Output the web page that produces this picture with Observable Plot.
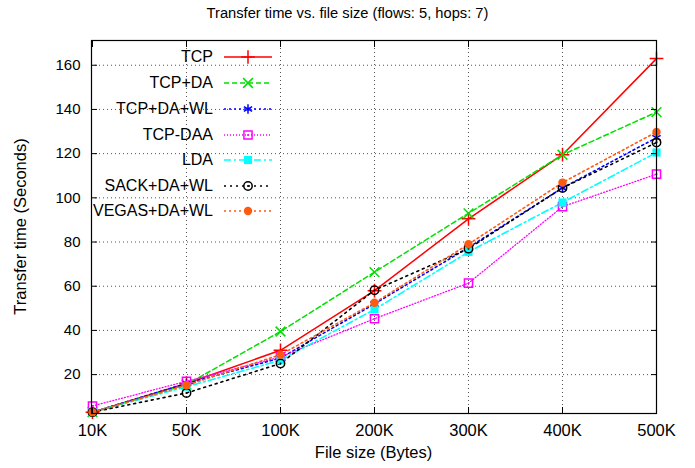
<!DOCTYPE html>
<html><head><meta charset="utf-8">
<script src="https://cdn.jsdelivr.net/npm/d3@7"></script>
<script src="https://cdn.jsdelivr.net/npm/@observablehq/plot@0.6"></script>
<style>
body{margin:0;background:#fff;font-family:"Liberation Sans",Arial,Helvetica,sans-serif;}
#wrap{position:relative;width:695px;height:468px;overflow:hidden;}
#title{height:26px;line-height:26px;text-align:center;font-size:14.7px;color:#000;}
#legend{position:absolute;left:0;top:26px;font-size:16px;color:#000;}
.row{position:absolute;height:20px;}
.row span{position:absolute;right:0;top:1px;white-space:nowrap;}
</style>
</head><body>
<div id="wrap">
<div id="title">Transfer time vs. file size (flows: 5, hops: 7)</div>
<div id="chart"></div>
<div id="legend"></div>
</div>
<script>
const sizes = ["10K","50K","100K","200K","300K","400K","500K"];
const seriesNames = ["TCP","TCP+DA","TCP+DA+WL","TCP-DAA","LDA","SACK+DA+WL","VEGAS+DA+WL"];
const tcp      = [3.0, 16.0, 31.0, 58.0, 90.5, 119.5, 163.0];
const tcpDA    = [3.0, 15.5, 39.5, 66.4, 93.0, 119.5, 138.8];
const tcpDAWL  = [3.0, 16.0, 27.5, 52.0, 77.5, 104.5, 127.2];
const tcpDAA   = [5.8, 17.0, 28.0, 45.3, 61.4, 96.0, 110.7];
const lda      = [3.0, 14.5, 26.5, 49.5, 75.5, 97.9, 120.5];
const sackDAWL = [3.0, 11.7, 25.0, 58.2, 77.0, 104.5, 125.0];
const vegasDAWL= [3.0, 15.2, 29.0, 52.5, 79.0, 106.9, 129.8];
const yTicks = [20,40,60,80,100,120,140,160];

const values = [tcp, tcpDA, tcpDAWL, tcpDAA, lda, sackDAWL, vegasDAWL];
const styles = [
  {color:"#ff0000", dash:null,       w:1.5, symbol:"plus",     fill:"none", dot:false},
  {color:"#00e000", dash:"5,3",      w:1.5, symbol:"times",    fill:"none", dot:false},
  {color:"#0000ff", dash:"2,3",      w:1.6, symbol:"asterisk", fill:"none", dot:false},
  {color:"#ff00ff", dash:"1,2",      w:1.3, symbol:"square",   fill:"none", dot:true},
  {color:"#00ffff", dash:"7,3,2,3",  w:1.6, symbol:"square",   fill:"fill", dot:false},
  {color:"#000000", dash:"2,4",      w:1.6, symbol:"circle",   fill:"none", dot:true},
  {color:"#ff5a10", dash:"2,3",      w:1.6, symbol:"circle",   fill:"fill", dot:false}
];

const W = 695, H = 442;
const marks = [];
marks.push(Plot.gridY(yTicks, {stroke:"#555", strokeOpacity:1, strokeDasharray:"1,3"}));
marks.push(Plot.gridX(sizes.slice(1, -1), {stroke:"#555", strokeOpacity:1, strokeDasharray:"1,3"}));
seriesNames.forEach((name, i) => {
  const data = sizes.map((s, j) => ({size: s, time: values[i][j]}));
  const st = styles[i];
  marks.push(Plot.line(data, {x:"size", y:"time", stroke: st.color, strokeWidth: st.w,
    strokeDasharray: st.dash || undefined}));
});
seriesNames.forEach((name, i) => {
  const data = sizes.map((s, j) => ({size: s, time: values[i][j]}));
  const st = styles[i];
  if (st.fill === "fill") {
    marks.push(Plot.dot(data, {x:"size", y:"time", symbol: st.symbol, fill: st.color, r: st.symbol==="square"?4.6:4.2}));
  } else {
    marks.push(Plot.dot(data, {x:"size", y:"time", symbol: st.symbol, stroke: st.color, strokeWidth: 1.5, r: st.symbol==="square"?4.6:(st.symbol==="circle"?4.2:4.5)}));
    if (st.dot) marks.push(Plot.dot(data, {x:"size", y:"time", fill: st.color, r: 1}));
  }
});
// inward ticks on all four sides
marks.push(Plot.axisY(yTicks, {anchor:"left", tickSize:6, dx:6, tickFormat:() => "", label:null}));
marks.push(Plot.axisY(yTicks, {anchor:"right", tickSize:6, dx:-6, tickFormat:() => "", label:null}));
marks.push(Plot.axisX(sizes, {anchor:"bottom", tickSize:6, dy:-6, tickFormat:() => "", label:null}));
marks.push(Plot.axisX(sizes, {anchor:"top", tickSize:6, dy:6, tickFormat:() => "", label:null}));
// labels
marks.push(Plot.axisY(yTicks, {anchor:"left", tickSize:0, tickPadding:11, fontSize:15, label:null}));
marks.push(Plot.axisX(sizes, {anchor:"bottom", tickSize:0, tickPadding:11, fontSize:16.5, label:null}));
marks.push(Plot.frame({stroke:"#000", strokeWidth:1.2}));

const plot = Plot.plot({
  width: W, height: H,
  marginTop: 14, marginBottom: 55, marginLeft: 91, marginRight: 39,
  style: {fontFamily: '"Liberation Sans", Arial, Helvetica, sans-serif', fontSize: "15px", color:"#000", background:"#fff"},
  x: {type:"point", domain: sizes, padding: 0, label: null},
  y: {domain: [2.4, 171.2], label: null},
  marks
});
document.getElementById("chart").appendChild(plot);

// axis titles
const svg = d3.select(plot);
svg.append("text").attr("x", 91 + (W-91-39)/2).attr("y", H - 10)
  .attr("text-anchor","middle").attr("font-size", 16.5).attr("fill","#000").text("File size (Bytes)");
svg.append("text").attr("transform", `translate(26,${14 + (H-14-55)/2}) rotate(-90)`)
  .attr("text-anchor","middle").attr("font-size", 16.5).attr("fill","#000").text("Transfer time (Seconds)");

// legend
const rowsY = [31.3, 57, 83, 108.7, 134, 159.7, 185];
const legend = d3.select("#legend");
seriesNames.forEach((name, i) => {
  const st = styles[i];
  const row = legend.append("div").attr("class","row")
    .style("left","0px").style("top", (rowsY[i]-10)+"px").style("width","280px");
  row.append("span").style("right", (280-213)+"px").text(name);
  const s = row.append("svg").attr("width", 60).attr("height", 20)
    .style("position","absolute").style("left","220px").style("top","0px");
  s.append("line").attr("x1",4).attr("x2",52).attr("y1",10).attr("y2",10)
    .attr("stroke", st.color).attr("stroke-width",st.w).attr("stroke-dasharray", st.dash);
  const symMap = {plus:d3.symbolPlus, times:d3.symbolTimes, asterisk:d3.symbolAsterisk, square:d3.symbolSquare, circle:d3.symbolCircle};
  const r = st.symbol==="square"?4.6:(st.symbol==="circle"?4.2:4.5);
  const path = d3.symbol(symMap[st.symbol], r*r*Math.PI)();
  const p = s.append("path").attr("d", path).attr("transform","translate(28,10)");
  if (st.fill==="fill") p.attr("fill", st.color);
  else p.attr("fill","none").attr("stroke", st.color).attr("stroke-width",1.5);
  if (st.dot) s.append("circle").attr("cx",28).attr("cy",10).attr("r",1).attr("fill",st.color);
});
</script>
</body></html>
